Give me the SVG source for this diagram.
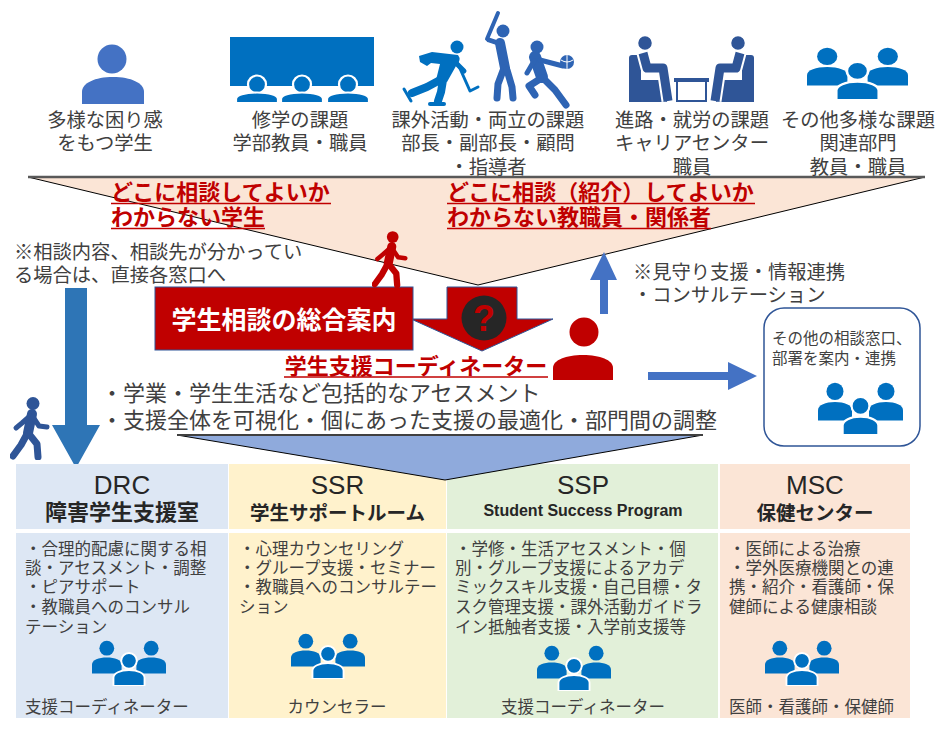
<svg xmlns="http://www.w3.org/2000/svg" width="937" height="730" viewBox="0 0 937 730">
<defs>
<style>
.jp{font-family:"Noto Sans CJK JP","Noto Sans",sans-serif;}
.lbl{font-size:19.3px;fill:#404040;text-anchor:middle;}
.note{font-size:19.3px;fill:#404040;}
.red{font-size:22px;fill:#c00000;font-weight:700;}
.ul{stroke:#c00000;stroke-width:1.6;}
.bullet{font-size:22px;fill:#404040;}
.en{font-family:"Liberation Sans",Arial,sans-serif;fill:#262626;}
.code{font-size:26px;}
.hd{text-anchor:middle;fill:#262626;}
.jhd{font-family:"Noto Sans CJK JP","Noto Sans",sans-serif;font-weight:700;}
.body{font-size:16.5px;fill:#404040;}
.mid{text-anchor:middle;}
.limb{fill:none;stroke:currentColor;stroke-linecap:round;stroke-linejoin:round;}
</style>
<symbol id="grp" viewBox="0 0 100 62" preserveAspectRatio="none">
  <circle cx="20" cy="11" r="10"/>
  <circle cx="80" cy="11" r="10"/>
  <path d="M0,45V33C0,27 9,23.5 20,23.5C31,23.5 40,27 40,33V45Z"/>
  <path d="M60,45V33C60,27 69,23.5 80,23.5C91,23.5 100,27 100,33V45Z"/>
  <circle cx="50" cy="28" r="10.5" stroke="#fff" stroke-width="2.5"/>
  <path d="M29,62V51C29,45 38,40.5 50,40.5C62,40.5 71,45 71,51V62Z" stroke="#fff" stroke-width="2.5"/>
</symbol>
<symbol id="walker" viewBox="0 0 40 63">
  <circle cx="23" cy="6.5" r="6.5" fill="currentColor"/>
  <path class="limb" d="M22,17L18,36" stroke-width="10"/>
  <path class="limb" d="M20,19L12,26L6,31" stroke-width="5"/>
  <path class="limb" d="M23,20L29,29L37,30" stroke-width="5"/>
  <path class="limb" d="M17,37L11,48L3,59" stroke-width="7"/>
  <path class="limb" d="M19,37L27,47L28,60" stroke-width="7"/>
</symbol>
</defs>

<rect width="937" height="730" fill="#fff"/>

<!-- funnel of consultations -->
<g id="funnel">
  <polygon points="28,177 925,177 478,285" fill="#fbe5d6" stroke="#000" stroke-width="1"/>
  <line x1="28" y1="177" x2="925" y2="177" stroke="#595959" stroke-width="2.5"/>
</g>

<!-- student with difficulties -->
<g id="student">
  <circle cx="112" cy="59" r="14.5" fill="#4472c4"/>
  <path d="M82,104V92C82,83 95,77 113,77C131,77 144,83 144,92V104Z" fill="#4472c4"/>
  <text class="jp lbl"><tspan x="105" y="127">多様な困り感</tspan><tspan x="105" y="150">をもつ学生</tspan></text>
</g>

<!-- academic issues -->
<g id="academic">
  <rect x="230" y="37" width="144" height="49" fill="#0070c0"/>
  <g fill="#0070c0" stroke="#fff" stroke-width="2.2">
    <circle cx="257" cy="84.5" r="9"/>
    <path d="M236,103V99C236,95 245,92.5 257,92.5C269,92.5 278,95 278,99V103Z"/>
    <circle cx="302" cy="84.5" r="9"/>
    <path d="M281,103V99C281,95 290,92.5 302,92.5C314,92.5 323,95 323,99V103Z"/>
    <circle cx="348" cy="84.5" r="9"/>
    <path d="M327,103V99C327,95 336,92.5 348,92.5C360,92.5 369,95 369,99V103Z"/>
  </g>
  <text class="jp lbl"><tspan x="300" y="127">修学の課題</tspan><tspan x="300" y="150">学部教員・職員</tspan></text>
</g>

<!-- extracurricular issues -->
<g id="extracurricular">
  <g style="color:#0070c0">
    <circle cx="457" cy="47" r="6.5" fill="#0070c0"/>
    <path d="M419,56L432,52L458,55Q462,60 456,66L447,82L436,80L440,64L431,63L427,66L420,62Z" fill="#0070c0"/>
    <path class="limb" d="M454,61L464,71" stroke-width="5"/>
    <path class="limb" d="M458,64L470,91L478,87" stroke-width="3"/>
    <path class="limb" d="M440,80L427,87L412,93" stroke-width="8"/>
    <path class="limb" d="M404,89L411,101" stroke-width="3"/>
    <path class="limb" d="M443,80L441,92L438,101" stroke-width="8"/>
    <path class="limb" d="M430,104L444,104" stroke-width="4"/>
  </g>
  <g style="color:#2e64b4">
    <path class="limb" d="M498,13L487,39" stroke-width="4"/>
    <circle cx="503" cy="31" r="6.5" fill="#2e64b4"/>
    <path class="limb" d="M498,43L489,40" stroke-width="5"/>
    <path class="limb" d="M500,43L505,68" stroke-width="10"/>
    <path class="limb" d="M504,68L498,84L497,98" stroke-width="7"/>
    <path class="limb" d="M507,70L512,87L513,98" stroke-width="7"/>
    <circle cx="537" cy="47" r="6.5" fill="#2e64b4"/>
    <path class="limb" d="M535,57L542,77" stroke-width="12"/>
    <path class="limb" d="M540,60L563,66" stroke-width="5"/>
    <path class="limb" d="M534,61L527,73" stroke-width="5"/>
    <circle cx="567" cy="62" r="7" fill="#2e64b4"/>
    <path d="M561,60Q567,64 573,60M567,55V69" fill="none" stroke="#fff" stroke-width="1"/>
    <path class="limb" d="M543,78L555,90L566,105" stroke-width="7"/>
    <path class="limb" d="M540,79L529,86L535,95" stroke-width="7"/>
  </g>
  <text class="jp lbl"><tspan x="488" y="127">課外活動・両立の課題</tspan><tspan x="488" y="150">部長・副部長・顧問</tspan><tspan x="488" y="174">・指導者</tspan></text>
</g>

<!-- career issues -->
<g id="career">
  <g id="seated" fill="#2f5597">
    <rect x="629" y="55" width="12" height="47" rx="3"/>
    <rect x="629" y="80" width="38" height="22"/>
    <circle cx="645" cy="43" r="7.5" stroke="#fff" stroke-width="1.5"/>
    <path d="M643,53L647,68L663,68L668,101" fill="none" stroke="#fff" stroke-width="13" stroke-linejoin="round"/>
    <path d="M643,53L647,68L663,68L668,101" fill="none" stroke="#2f5597" stroke-width="9" stroke-linejoin="round"/>
  </g>
  <use href="#seated" transform="translate(1383,0) scale(-1,1)"/>
  <rect x="674" y="78" width="35" height="4" fill="#2f5597"/>
  <path d="M677,82V101H706V82" fill="none" stroke="#2f5597" stroke-width="2"/>
  <text class="jp lbl"><tspan x="692" y="127">進路・就労の課題</tspan><tspan x="692" y="150">キャリアセンター</tspan><tspan x="692" y="174">職員</tspan></text>
</g>

<!-- other issues -->
<g id="other-issues">
  <use href="#grp" x="807" y="47" width="101" height="53" fill="#0070c0"/>
  <text class="jp lbl"><tspan x="858" y="127">その他多様な課題</tspan><tspan x="858" y="150">関連部門</tspan><tspan x="858" y="174">教員・職員</tspan></text>
</g>

<!-- red headings in the funnel -->
<g id="unsure-student">
  <text class="jp red"><tspan x="111" y="200">どこに相談してよいか</tspan><tspan x="111" y="225">わからない学生</tspan></text>
  <line class="ul" x1="111" y1="203.5" x2="331" y2="203.5"/>
  <line class="ul" x1="111" y1="228.5" x2="265" y2="228.5"/>
</g>
<g id="unsure-staff">
  <text class="jp red"><tspan x="447" y="200">どこに相談（紹介）してよいか</tspan><tspan x="447" y="225">わからない教職員・関係者</tspan></text>
  <line class="ul" x1="447" y1="203.5" x2="755" y2="203.5"/>
  <line class="ul" x1="447" y1="228.5" x2="711" y2="228.5"/>
</g>

<g id="direct-note">
  <text class="jp note"><tspan x="14" y="259">※相談内容、相談先が分かってい</tspan><tspan x="14" y="282">る場合は、直接各窓口へ</tspan></text>
</g>

<g id="connectors">
  <polygon points="65,288 87,288 87,425 100,425 76,468 52,425 65,425" fill="#2e75b6"/>
  <polygon points="600,314 608,314 608,280 617,280 604,252 590,280 600,280" fill="#4472c4"/>
  <polygon points="648,372 728,372 728,362 757,376 728,390 728,380 648,380" fill="#4472c4"/>
  <polygon points="447,287 517,287 517,319 553,319 482,351 411,319 447,319" fill="#c00000" stroke="#2f5597" stroke-width="1"/>
</g>

<use id="walker-blue" href="#walker" x="10" y="397" width="40" height="63" style="color:#2f5597"/>

<!-- general consultation desk -->
<g id="desk">
  <rect x="155" y="287" width="258" height="63" fill="#c00000" stroke="#2f5597" stroke-width="1"/>
  <text class="jp mid" x="284" y="329" font-size="25" font-weight="700" fill="#fff">学生相談の総合案内</text>
</g>
<g id="question">
  <circle cx="484" cy="318" r="22.5" fill="#262626"/>
  <text x="484" y="331" font-family="'Liberation Sans',Arial,sans-serif" font-size="36" font-weight="700" fill="#c00000" text-anchor="middle">?</text>
</g>
<use id="walker-red" href="#walker" x="372" y="231" width="36" height="57" style="color:#c00000"/>

<!-- student support coordinator -->
<g id="coordinator">
  <circle cx="584" cy="332" r="14.5" fill="#c00000"/>
  <path d="M553,380V368C553,360 566,355 583,355C600,355 613,360 613,368V380Z" fill="#c00000"/>
  <text class="jp red mid" x="416" y="374">学生支援コーディネーター</text>
  <line class="ul" x1="284" y1="377" x2="548" y2="377"/>
</g>

<g id="watch-note">
  <text class="jp note"><tspan x="633" y="279">※見守り支援・情報連携</tspan><tspan x="633" y="302">・コンサルテーション</tspan></text>
</g>

<!-- other desks -->
<g id="other-desks">
  <rect x="764" y="308" width="156" height="138" rx="20" fill="#fff" stroke="#2f5597" stroke-width="1.5"/>
  <text class="jp" font-size="15.5" fill="#404040"><tspan x="772" y="344">その他の相談窓口、</tspan><tspan x="772" y="364">部署を案内・連携</tspan></text>
  <use href="#grp" x="818" y="382" width="85" height="53" fill="#0070c0"/>
</g>

<g id="assessment">
  <text class="jp bullet"><tspan x="101" y="401">・学業・学生生活など包括的なアセスメント</tspan><tspan x="101" y="428">・支援全体を可視化・個にあった支援の最適化・部門間の調整</tspan></text>
</g>

<!-- support units -->
<g id="drc">
  <rect x="16" y="464" width="212" height="65" fill="#dde7f4"/>
  <rect x="16" y="533" width="212" height="185" fill="#dde7f4"/>
  <text class="hd"><tspan class="en code" x="122" y="494">DRC</tspan><tspan class="jhd" x="122" y="520" font-size="22">障害学生支援室</tspan></text>
  <text class="jp body"><tspan x="25" y="554.6">・合理的配慮に関する相</tspan><tspan x="25" y="573.6">談・アセスメント・調整</tspan><tspan x="25" y="593">・ピアサポート</tspan><tspan x="25" y="613">・教職員へのコンサル</tspan><tspan x="25" y="633">テーション</tspan></text>
  <use href="#grp" x="92" y="640" width="74" height="46" fill="#0070c0"/>
  <text class="jp body" x="25" y="713">支援コーディネーター</text>
</g>
<g id="ssr">
  <rect x="229" y="464" width="217" height="65" fill="#fff2cc"/>
  <rect x="229" y="533" width="217" height="185" fill="#fff2cc"/>
  <text class="hd"><tspan class="en code" x="337.5" y="494">SSR</tspan><tspan class="jhd" x="337.5" y="519.5" font-size="19.5">学生サポートルーム</tspan></text>
  <text class="jp body"><tspan x="239" y="554.6">・心理カウンセリング</tspan><tspan x="239" y="573.6">・グループ支援・セミナー</tspan><tspan x="239" y="593">・教職員へのコンサルテー</tspan><tspan x="239" y="613">ション</tspan></text>
  <use href="#grp" x="291" y="633" width="74" height="46" fill="#0070c0"/>
  <text class="jp body mid" x="337" y="713">カウンセラー</text>
</g>
<g id="ssp">
  <rect x="447" y="464" width="271" height="65" fill="#e2f0d9"/>
  <rect x="447" y="533" width="271" height="185" fill="#e2f0d9"/>
  <text class="hd"><tspan class="en code" x="583" y="494">SSP</tspan><tspan class="en" x="583" y="516" font-size="16" font-weight="700">Student Success Program</tspan></text>
  <text class="jp body"><tspan x="455" y="554.6">・学修・生活アセスメント・個</tspan><tspan x="455" y="573.6">別・グループ支援によるアカデ</tspan><tspan x="455" y="593">ミックスキル支援・自己目標・タ</tspan><tspan x="455" y="613">スク管理支援・課外活動ガイドラ</tspan><tspan x="455" y="633">イン抵触者支援・入学前支援等</tspan></text>
  <use href="#grp" x="537" y="645" width="74" height="46" fill="#0070c0"/>
  <text class="jp body mid" x="583" y="713">支援コーディネーター</text>
</g>
<g id="msc">
  <rect x="720" y="464" width="190" height="65" fill="#fbe5d6"/>
  <rect x="720" y="533" width="190" height="185" fill="#fbe5d6"/>
  <text class="hd"><tspan class="en code" x="815" y="494">MSC</tspan><tspan class="jhd" x="815" y="519.5" font-size="19.5">保健センター</tspan></text>
  <text class="jp body"><tspan x="729" y="554.6">・医師による治療</tspan><tspan x="729" y="573.6">・学外医療機関との連</tspan><tspan x="729" y="593">携・紹介・看護師・保</tspan><tspan x="729" y="613">健師による健康相談</tspan></text>
  <use href="#grp" x="765" y="640" width="74" height="46" fill="#0070c0"/>
  <text class="jp body" x="729" y="713">医師・看護師・保健師</text>
</g>

<!-- coordinator's reach into the units -->
<g id="spread">
  <polygon points="177,435 703,435 445,480" fill="#8faadc" stroke="#000" stroke-width="1"/>
  <line x1="177" y1="435" x2="703" y2="435" stroke="#404040" stroke-width="1.8"/>
</g>
</svg>
